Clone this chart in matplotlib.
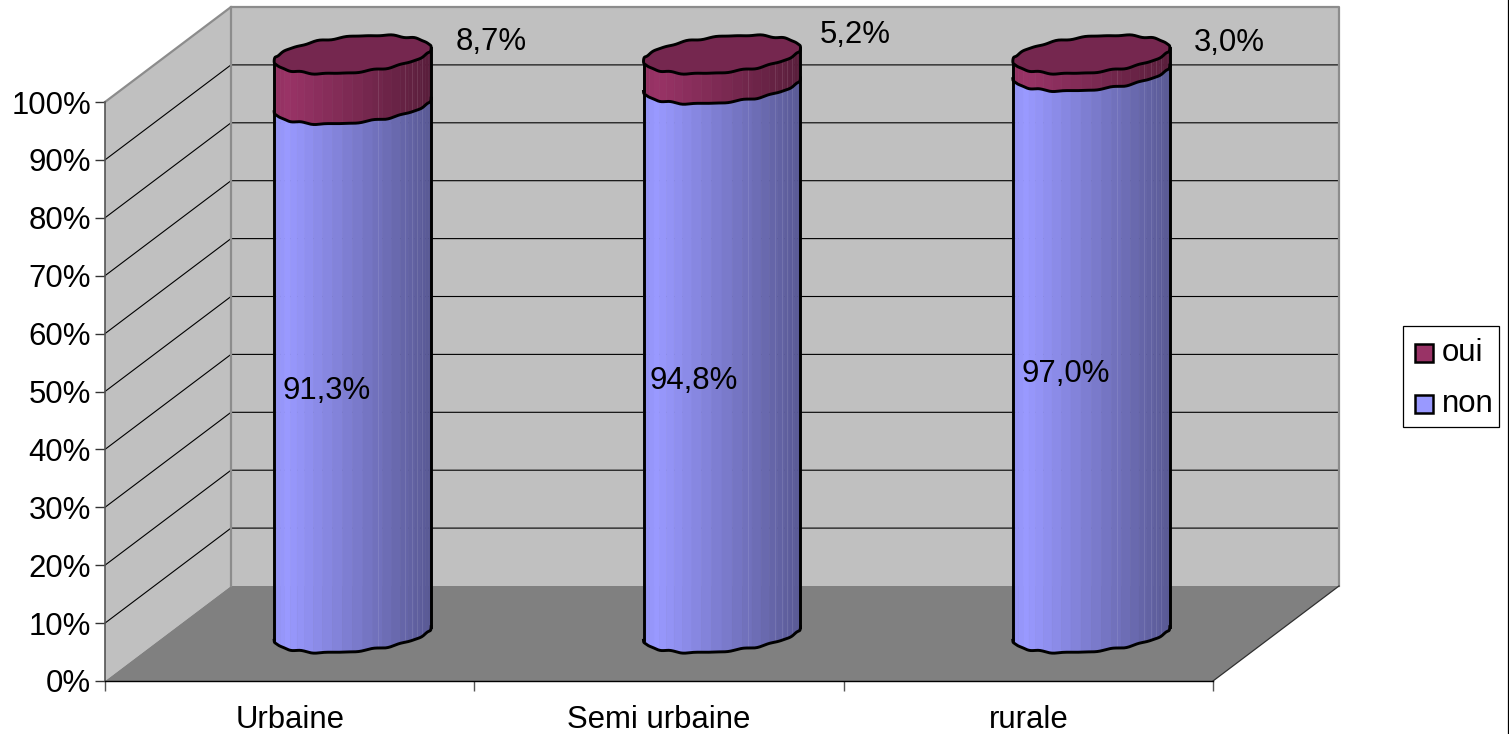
import numpy as np
import matplotlib
matplotlib.use("Agg")
import matplotlib.pyplot as plt
from matplotlib.colors import to_rgb
from matplotlib.patches import Rectangle

plt.rcParams['font.family'] = ['Liberation Sans', 'DejaVu Sans']

categories = ['Urbaine', 'Semi urbaine', 'rurale']
non_values = [91.3, 94.8, 97.0]
oui_values = [8.7, 5.2, 3.0]
non_labels = ['91,3%', '94,8%', '97,0%']
oui_labels = ['8,7%', '5,2%', '3,0%']
y_ticks = [0, 10, 20, 30, 40, 50, 60, 70, 80, 90, 100]

FS = 22.4
NON = '#9999FF'
OUI = '#993366'
WALL = '#C0C0C0'
FLOOR = '#808080'

W, H = 1509, 734
fig = plt.figure(figsize=(W / 100, H / 100), dpi=100)
ax = fig.add_axes([105 / W, 53 / H, 1108 / W, 579 / H])
ax.set_xlim(0, 3)
ax.set_ylim(0, 100)

# data units per pixel, the depth offset of the 3d box is given in pixels
ux = 3 / 1108
uy = 100 / 579
dx = 126 * ux
dy = 95 * uy

# walls and floor
ax.fill([0, dx, dx, 0], [0, dy, 100 + dy, 100], color=WALL, lw=0, clip_on=False, zorder=1)
ax.fill([dx, 3 + dx, 3 + dx, dx], [dy, dy, 100 + dy, 100 + dy], color=WALL, lw=0, clip_on=False, zorder=1)
ax.fill([0, 3, 3 + dx, dx], [0, 0, dy, dy], color=FLOOR, lw=0, clip_on=False, zorder=2)

# gridlines on side and back wall
for v in y_ticks[1:-1]:
    ax.plot([0, dx, 3 + dx], [v, v + dy, v + dy], color='black', lw=0.8, clip_on=False, zorder=3)

# box edges
ax.plot([0, dx, 3 + dx, 3 + dx], [100, 100 + dy, 100 + dy, dy], color='#8C8C8C', lw=1.6, clip_on=False, zorder=3)
ax.plot([dx, dx], [dy, 100 + dy], color='#8C8C8C', lw=1.6, clip_on=False, zorder=3)
ax.plot([3, 3 + dx], [0, dy], color='#303030', lw=0.9, clip_on=False, zorder=3)


def outline(cx, v, t):
    # slightly tilted and uneven ellipse around a cylinder
    wob = 0.55 * np.sin(13 * t) + 0.35 * np.sin(19 * t + 1)
    x = cx + 78.5 * ux * np.cos(t)
    y = v + (18 * np.sin(t) + 6.5 * np.cos(t) + wob) * uy
    return x, y


def shade(u):
    return np.interp(u, [0, 0.08, 1], [0.95, 1.0, 0.58])


def darker(color, k):
    return tuple(c * k for c in to_rgb(color))


def body(cx, v0, v1, color, z):
    # front face of one cylinder section, drawn as vertical strips
    strips = 24
    sub = 7
    tf = np.linspace(np.pi, 2 * np.pi, strips * sub + 1)
    for i in range(strips):
        part = tf[i * sub:(i + 1) * sub + 1]
        x0, y0 = outline(cx, v0, part)
        x1, y1 = outline(cx, v1, part)
        u = (np.cos(part[sub // 2]) + 1) / 2
        c = darker(color, shade(u))
        ax.fill(np.r_[x0, x1[::-1]], np.r_[y0, y1[::-1]],
                facecolor=c, edgecolor=c, lw=0.4, clip_on=False, zorder=z)
    # faint seams on the shaded side
    for off in [25.5, 52.5, 59.5, 64.5, 69.5]:
        ts = 2 * np.pi - np.arccos(off / 78.5)
        xs0, ys0 = outline(cx, v0, np.array([ts]))
        xs1, ys1 = outline(cx, v1, np.array([ts]))
        ax.plot([xs0[0], xs1[0]], [ys0[0], ys1[0]], color='white', alpha=0.1, lw=0.8, clip_on=False, zorder=z + 0.1)
    x0, y0 = outline(cx, v0, tf)
    x1, y1 = outline(cx, v1, tf)
    ax.plot(x0, y0, color='black', lw=2.1, clip_on=False, zorder=z + 0.2)
    ax.plot([x0[0], x1[0]], [y0[0], y1[0]], color='black', lw=2.1, clip_on=False, zorder=z + 0.2)
    ax.plot([x0[-1], x1[-1]], [y0[-1], y1[-1]], color='black', lw=2.1, clip_on=False, zorder=z + 0.2)


for i in range(len(categories)):
    cx = i + 0.5 + dx / 2
    base = dy / 2
    body(cx, base, base + non_values[i], NON, 4 + i)
    body(cx, base + non_values[i], base + non_values[i] + oui_values[i], OUI, 4.4 + i)
    t = np.linspace(0, 2 * np.pi, 161)
    xt, yt = outline(cx, base + non_values[i] + oui_values[i], t)
    ax.fill(xt, yt, facecolor='#75274F', edgecolor='black', lw=2.1, clip_on=False, zorder=4.7 + i)

# value labels, offsets in pixels from the middle of each section
non_off = [(-26, 26), (-28, 26), (-26, 26)]
oui_off = [(139, 85), (133, 82), (138, 68)]
for i in range(len(categories)):
    ax.text(i + 0.5 + dx / 2 + non_off[i][0] * ux, non_values[i] / 2 + non_off[i][1] * uy, non_labels[i],
            fontsize=FS, ha='center', va='center', zorder=10)
    ax.text(i + 0.5 + dx / 2 + oui_off[i][0] * ux, non_values[i] + oui_values[i] / 2 + oui_off[i][1] * uy,
            oui_labels[i], fontsize=FS, ha='center', va='center', zorder=10)

# axes
ax.patch.set_visible(False)
for s in ['top', 'right']:
    ax.spines[s].set_visible(False)
ax.spines['left'].set_color('#555555')
ax.spines['left'].set_linewidth(1.2)
ax.spines['bottom'].set_color('black')
ax.spines['bottom'].set_linewidth(1.0)
ax.spines['left'].set_zorder(3)
ax.spines['bottom'].set_zorder(3)

ax.set_yticks(y_ticks)
ax.set_yticklabels([f'{v}%' for v in y_ticks], fontsize=FS)
ax.set_xticks([0, 1, 2, 3])
ax.set_xticklabels([])
ax.set_xticks([0.5, 1.5, 2.5], minor=True)
ax.set_xticklabels(categories, minor=True, fontsize=FS)
ax.tick_params(axis='x', which='major', length=7.5, width=1, color='#555555')
ax.tick_params(axis='x', which='minor', length=0, pad=17)
ax.tick_params(axis='y', length=7.5, width=1, color='#333333', pad=2.5)

# legend box
fig.add_artist(Rectangle((1403 / W, 1 - 427 / H), 96 / W, 101 / H, transform=fig.transFigure,
                         facecolor='white', edgecolor='black', lw=0.9))
for name, color, yc in [('oui', OUI, 353), ('non', NON, 404)]:
    fig.add_artist(Rectangle((1415 / W, 1 - (yc + 9) / H), 18 / W, 18 / H, transform=fig.transFigure,
                             facecolor=color, edgecolor='black', lw=1.8))
    fig.text(1442 / W, 1 - yc / H, name, fontsize=FS, ha='left', va='center')

# thin frame line along the right edge
fig.add_artist(plt.Line2D([1507.5 / W, 1507.5 / W], [0, 1], color='black', lw=0.9))

fig.savefig('out.png', dpi=100)
